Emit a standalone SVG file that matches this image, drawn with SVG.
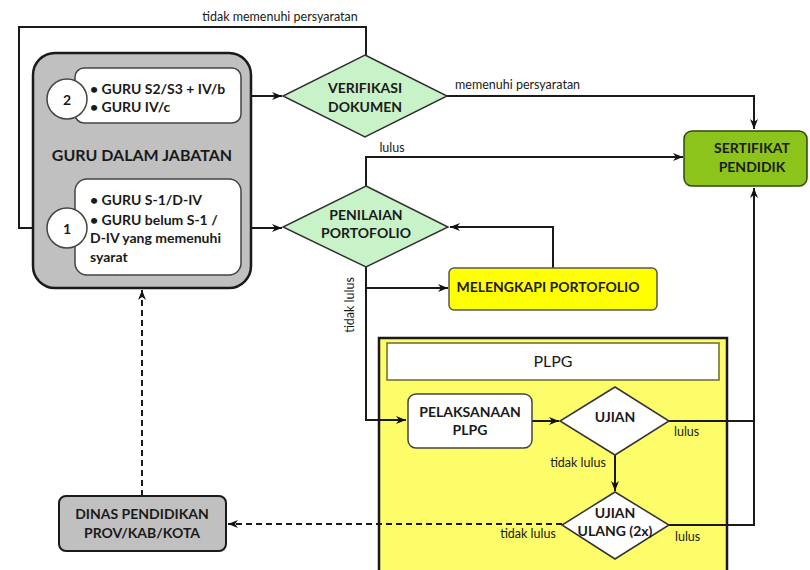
<svg xmlns="http://www.w3.org/2000/svg" width="810" height="570" viewBox="0 0 810 570">
<defs>
<marker id="arr" markerWidth="10" markerHeight="8" refX="10" refY="4" orient="auto" markerUnits="userSpaceOnUse">
<path d="M0,0 L10,4 L0,8 L3,4 z" fill="#111"/>
</marker>
</defs>
<style>
.t{font-family:Lato,"Open Sans",sans-serif;fill:#1a1a1a}
.b{font-weight:bold;font-size:14px}
.lbl{font-size:12.5px}
.c{text-anchor:middle}
.ln{fill:none;stroke:#1a1a1a;stroke-width:2}
.dash{stroke-dasharray:6 4}
.dia{fill:#c8f2c8;stroke:#333;stroke-width:1.5}
.wb{fill:#fff;stroke:#444;stroke-width:1.5}
</style>
<rect width="810" height="570" fill="#fff"/>

<g id="plpg-container">
<rect x="379" y="338" width="348" height="240" fill="#fdfd6a" stroke="#1a1a1a" stroke-width="2.5"/>
<rect x="387" y="343" width="332" height="37" fill="#fff" stroke="#6b6b2a" stroke-width="1.5"/>
<text class="t c" x="553" y="367" font-size="16">PLPG</text>
</g>

<g id="connectors">
<polyline class="ln" points="366,55 366,27 19,27 19,228 45,228" marker-end="url(#arr)"/>
<line class="ln" x1="241" y1="96" x2="282" y2="96" marker-end="url(#arr)"/>
<polyline class="ln" points="447,96 754,96 754,129" marker-end="url(#arr)"/>
<line class="ln" x1="241" y1="228" x2="282" y2="228" marker-end="url(#arr)"/>
<polyline class="ln" points="366,186 366,157 683,157" marker-end="url(#arr)"/>
<polyline class="ln" points="553,268 553,227 450,227" marker-end="url(#arr)"/>
<polyline class="ln" points="366,267 366,420 406,420" marker-end="url(#arr)"/>
<polyline class="ln" points="366,288 448,288" marker-end="url(#arr)"/>
<line class="ln" x1="532" y1="421" x2="559" y2="421" marker-end="url(#arr)"/>
<polyline class="ln" points="669,421 754,421 754,188" marker-end="url(#arr)"/>
<line class="ln" x1="615" y1="455" x2="615" y2="491" marker-end="url(#arr)"/>
<polyline class="ln" points="669,525 754,525 754,421"/>
<line class="ln dash" x1="562" y1="524" x2="228" y2="524" marker-end="url(#arr)"/>
<line class="ln dash" x1="142" y1="496" x2="142" y2="290" marker-end="url(#arr)"/>
<text class="t lbl c" x="280" y="21">tidak memenuhi persyaratan</text>
<text class="t lbl" x="455" y="89">memenuhi persyaratan</text>
<text class="t lbl c" x="392" y="152">lulus</text>
<text class="t lbl c" transform="translate(354,305) rotate(-90)">tidak lulus</text>
<text class="t lbl" x="674" y="436">lulus</text>
<text class="t lbl c" x="578" y="467">tidak lulus</text>
<text class="t lbl" x="675" y="541">lulus</text>
<text class="t lbl c" x="528" y="538">tidak lulus</text>
</g>

<g id="guru-dalam-jabatan">
<rect x="33" y="53" width="218" height="235" rx="22" fill="#c0c0c0" stroke="#1a1a1a" stroke-width="2.5"/>
<text class="t c" x="142" y="161" font-size="16" font-weight="bold">GURU DALAM JABATAN</text>
</g>

<g id="group-2">
<rect class="wb" x="75" y="68" width="166" height="55" rx="9"/>
<circle cx="67" cy="99" r="20" fill="#fff" stroke="#444" stroke-width="1.5"/>
<text class="t b c" x="67" y="105" font-size="16">2</text>
<text class="t b" x="90" y="94">• GURU S2/S3 + IV/b</text>
<text class="t b" x="90" y="112">• GURU IV/c</text>
</g>

<g id="group-1">
<rect class="wb" x="75" y="179" width="166" height="96" rx="12"/>
<circle cx="67" cy="228" r="20" fill="#fff" stroke="#444" stroke-width="1.5"/>
<text class="t b c" x="67" y="234" font-size="16">1</text>
<text class="t b" x="90" y="205">• GURU S-1/D-IV</text>
<text class="t b" x="90" y="225">• GURU belum S-1 /</text>
<text class="t b" x="90" y="243">D-IV yang memenuhi</text>
<text class="t b" x="90" y="262">syarat</text>
</g>

<g id="verifikasi-dokumen">
<polygon class="dia" points="365,55 447,96 365,137 283,96"/>
<text class="t b c" x="365" y="93">VERIFIKASI</text>
<text class="t b c" x="365" y="112">DOKUMEN</text>
</g>

<g id="sertifikat-pendidik">
<rect x="684" y="131" width="123" height="55" rx="8" fill="#8cc41c" stroke="#2f4a08" stroke-width="1.5"/>
<text class="t b c" x="752" y="153">SERTIFIKAT</text>
<text class="t b c" x="752" y="172">PENDIDIK</text>
</g>

<g id="penilaian-portofolio">
<polygon class="dia" points="366,186 448,227 366,267 283,227"/>
<text class="t b c" x="366" y="220">PENILAIAN</text>
<text class="t b c" x="366" y="238">PORTOFOLIO</text>
</g>

<g id="melengkapi-portofolio">
<rect x="449" y="268" width="208" height="42" rx="5" fill="#ffff00" stroke="#555" stroke-width="1.5"/>
<text class="t b c" x="548" y="292">MELENGKAPI PORTOFOLIO</text>
</g>

<g id="pelaksanaan-plpg">
<rect class="wb" x="408" y="394" width="124" height="54" rx="8"/>
<text class="t b c" x="470" y="417">PELAKSANAAN</text>
<text class="t b c" x="470" y="435">PLPG</text>
</g>

<g id="ujian">
<polygon points="615,387 669,421 615,455 560,421" fill="#fff" stroke="#333" stroke-width="1.5"/>
<text class="t b c" x="615" y="422">UJIAN</text>
</g>

<g id="ujian-ulang">
<polygon points="615,492 669,525 615,559 562,525" fill="#fff" stroke="#333" stroke-width="1.5"/>
<text class="t b c" x="615" y="518" font-size="13">UJIAN</text>
<text class="t b c" x="615" y="536" font-size="13">ULANG (2x)</text>
</g>

<g id="dinas-pendidikan">
<rect x="59" y="496" width="167" height="55" rx="7" fill="#c0c0c0" stroke="#1a1a1a" stroke-width="2"/>
<text class="t b c" x="142" y="519">DINAS PENDIDIKAN</text>
<text class="t b c" x="142" y="538">PROV/KAB/KOTA</text>
</g>
</svg>
